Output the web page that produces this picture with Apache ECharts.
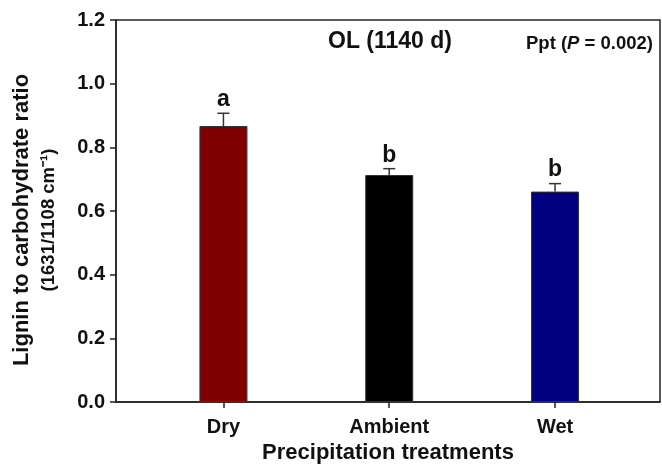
<!DOCTYPE html>
<html>
<head>
<meta charset="utf-8">
<title>OL (1140 d) lignin to carbohydrate ratio</title>
<script src="https://cdn.jsdelivr.net/npm/echarts@6/dist/echarts.min.js"></script>
<style>
  html, body { margin: 0; padding: 0; background: #fff; }
  #chart { width: 662px; height: 471px; }
</style>
</head>
<body>
<div id="chart"></div>
<script>
// Precipitation treatments and the measured lignin:carbohydrate ratio
const categories = ['Dry', 'Ambient', 'Wet'];
const ratioMeans = [0.867, 0.713, 0.661];
const ratioSE = [0.040, 0.020, 0.025];
const groupLetters = ['a', 'b', 'b'];
const barColors = ['#800000', '#000000', '#000080'];
const yTickValues = [0, 0.2, 0.4, 0.6, 0.8, 1.0, 1.2];

const FONT = '"Liberation Sans", Arial, Helvetica, sans-serif';
const AXIS_COLOR = '#222';
const categoryIndex = categories.map((_, i) => i);

const chart = echarts.init(document.getElementById('chart'), null, { renderer: 'canvas' });

chart.setOption({
  animation: false,
  backgroundColor: '#fff',
  grid: {
    left: 116, right: 2, top: 20, bottom: 69,
    show: true, borderColor: AXIS_COLOR, borderWidth: 1.5
  },
  graphic: [
    {
      type: 'text', x: 390, y: 42,
      style: {
        text: 'OL (1140 d)', textAlign: 'center', textVerticalAlign: 'middle',
        font: 'bold 23px ' + FONT, fill: '#111'
      }
    },
    {
      type: 'text', x: 653, y: 44,
      style: {
        text: '{n|Ppt (}{i|P}{n| = 0.002)}', textAlign: 'right', textVerticalAlign: 'middle',
        rich: {
          n: { fontFamily: FONT, fontWeight: 'bold', fontSize: 18.5, fill: '#111' },
          i: { fontFamily: FONT, fontWeight: 'bold', fontStyle: 'italic', fontSize: 18.5, fill: '#111' }
        }
      }
    }
  ],
  xAxis: {
    type: 'value',
    min: -0.648, max: 2.633,
    splitLine: { show: false },
    axisLine: { show: true, onZero: false, lineStyle: { color: AXIS_COLOR, width: 1.5 } },
    axisTick: { show: true, length: 6, customValues: categoryIndex, lineStyle: { color: AXIS_COLOR, width: 1.5 } },
    axisLabel: {
      customValues: categoryIndex,
      formatter: v => categories[Math.round(v)] || '',
      margin: 15, color: '#111', fontFamily: FONT, fontWeight: 'bold', fontSize: 20
    },
    name: 'Precipitation treatments',
    nameLocation: 'middle', nameGap: 40,
    nameTextStyle: { color: '#111', fontFamily: FONT, fontWeight: 'bold', fontSize: 22 }
  },
  yAxis: {
    type: 'value',
    min: 0, max: 1.2, interval: 0.2,
    splitLine: { show: false },
    axisLine: { show: true, onZero: false, lineStyle: { color: AXIS_COLOR, width: 1.5 } },
    axisTick: { show: true, length: 6, lineStyle: { color: AXIS_COLOR, width: 1.5 } },
    axisLabel: {
      customValues: yTickValues,
      formatter: v => v.toFixed(1),
      margin: 11, color: '#111', fontFamily: FONT, fontWeight: 'bold', fontSize: 20
    },
    name: '{t|Lignin to carbohydrate ratio}\n{s|(1631/1108 cm⁻¹)}',
    nameLocation: 'middle', nameRotate: 90, nameGap: 54,
    nameTextStyle: {
      align: 'center',
      padding: [0, 18, 0, 0],
      rich: {
        t: { color: '#111', fontFamily: FONT, fontWeight: 'bold', fontSize: 22, lineHeight: 28, align: 'center' },
        s: { color: '#111', fontFamily: FONT, fontWeight: 'bold', fontSize: 18.5, lineHeight: 26, align: 'center' }
      }
    }
  },
  series: [
    {
      type: 'bar',
      barWidth: 48,
      data: categoryIndex.map(i => ({
        value: [i, ratioMeans[i]],
        itemStyle: { color: barColors[i], borderColor: '#333', borderWidth: 1 }
      }))
    },
    {
      // upper standard-error whisker with the significance letter above it
      type: 'custom',
      data: categoryIndex.map(i => [i, ratioMeans[i], ratioSE[i]]),
      renderItem: (params, api) => {
        const x = api.value(0), m = api.value(1), e = api.value(2);
        const base = api.coord([x, m]);
        const top = api.coord([x, m + e]);
        const stroke = { stroke: '#333', lineWidth: 1.5 };
        return {
          type: 'group',
          children: [
            { type: 'line', shape: { x1: base[0], y1: base[1], x2: top[0], y2: top[1] }, style: stroke },
            { type: 'line', shape: { x1: top[0] - 6, y1: top[1], x2: top[0] + 6, y2: top[1] }, style: stroke },
            {
              type: 'text', x: top[0], y: top[1] - 2,
              style: {
                text: groupLetters[params.dataIndex], textAlign: 'center', textVerticalAlign: 'bottom',
                font: 'bold 23px ' + FONT, fill: '#111'
              }
            }
          ]
        };
      },
      z: 3
    }
  ]
});
</script>
</body>
</html>
